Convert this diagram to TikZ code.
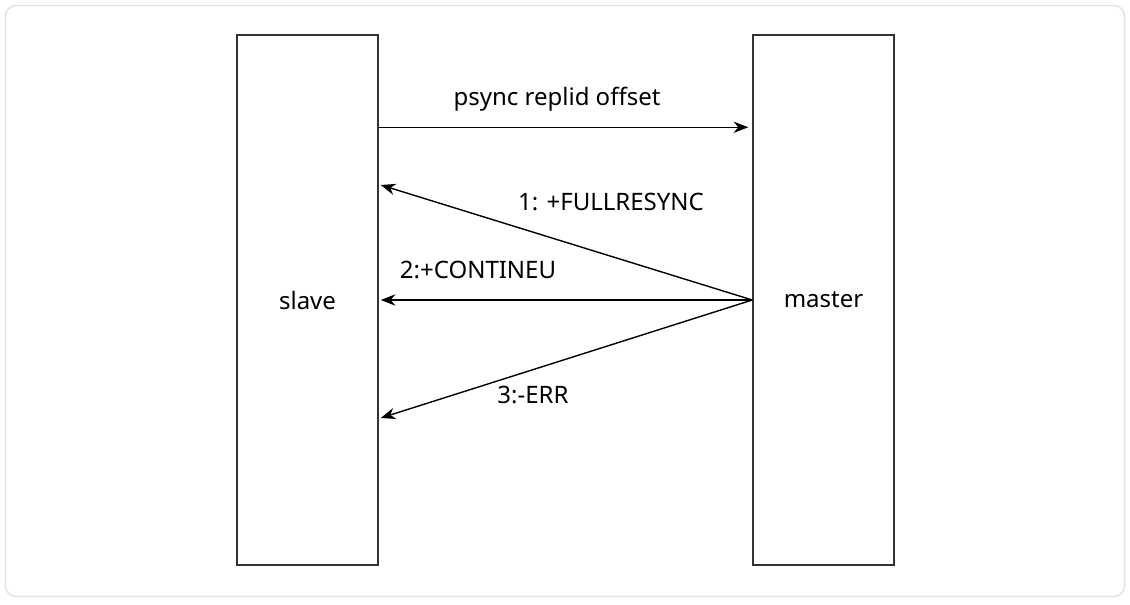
\documentclass[tikz,border=0pt]{standalone}
\usepackage{fontspec}
\setmainfont{Noto Sans}
\usetikzlibrary{positioning,arrows.meta,calc}
\definecolor{framegray}{HTML}{E2E2E2}
\definecolor{boxgray}{HTML}{333333}
\tikzset{>={Stealth[length=11pt,width=8.5pt,inset=3.5pt]},
x=0.75pt,y=-0.75pt,
frame/.style={draw=framegray,line width=1.1pt,rounded corners=8pt},
party/.style={rectangle,draw=boxgray,line width=1.1pt,minimum width=105.75pt,minimum height=397.5pt,font=\fontsize{18}{21}\selectfont},
msg/.style={->,line width=1.05pt},
el/.style={anchor=base,inner sep=0pt,font=\fontsize{18}{21}\selectfont},
}
\begin{document}
\begin{tikzpicture}
	\useasboundingbox (0,0) rectangle (1130,604);
	\draw[frame] (5.5,5.5) rectangle (1124.5,596.5);

	\node[party] (slave) at (307.5,300) {slave};
	\node[party] (master) at (823.5,300) {master};

	\coordinate (s0) at ($(slave.north east)+(0,93)$);
	\coordinate (m0) at ($(master.north west)+(-4,93)$);
	\coordinate (s1) at ($(slave.east)+(2,-115)$);
	\coordinate (s2) at ($(slave.east)+(2,0)$);
	\coordinate (s3) at ($(slave.east)+(2,118)$);

	\draw[msg] (s0) -- (m0);
	\draw[msg] (master.west) -- (s1);
	\draw[msg] (master.west) -- (s2);
	\draw[msg] (master.west) -- (s3);

	\node[el] (l0) at (557,105) {psync replid offset};
	\node[el] (l1) at (611,210) {1: +FULLRESYNC};
	\node[el] (l2) at (478,278) {2:+CONTINEU};
	\node[el] (l3) at (533,403) {3:-ERR};
\end{tikzpicture}
\end{document}
